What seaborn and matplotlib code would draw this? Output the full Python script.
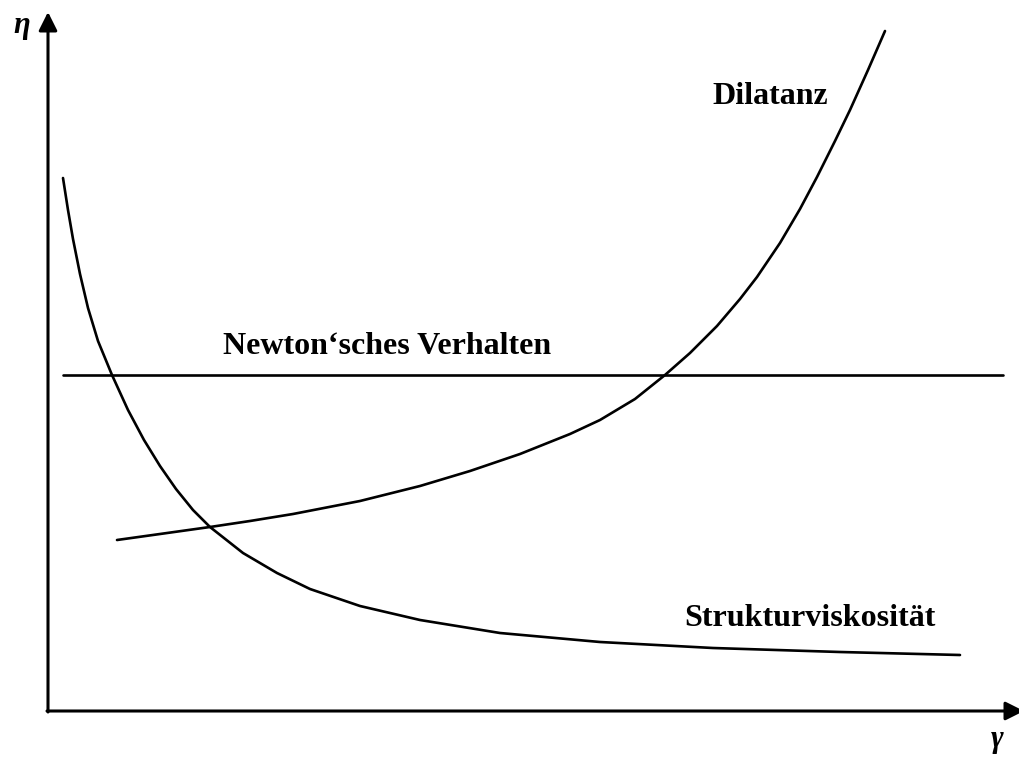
import pandas as pd
import matplotlib.pyplot as plt
import seaborn as sns

# values (shear rate vs. viscosity, arbitrary units)
struktur_x = [15, 20, 25, 32, 40, 50, 64, 80, 96, 112, 128, 145, 162, 195,
              229, 262, 312, 372, 452, 552, 665, 792, 912]
struktur_y = [533, 501, 472, 437, 403, 370, 336, 301, 271, 245, 222, 201, 184,
              158, 138, 122, 105, 91, 78, 69, 63, 59, 56]

dilatanz_x = [69, 112, 162, 202, 245, 312, 372, 422, 472, 522, 552, 587, 617,
              642, 669, 692, 709, 732, 752, 769, 787, 802, 820, 837]
dilatanz_y = [171, 177, 184, 190, 197, 210, 225, 240, 257, 277, 291, 312, 336,
              358, 385, 412, 434, 468, 502, 534, 570, 601, 641, 680]

newton_x = [15, 955]
newton_y = [336, 336]

labels = ["Strukturviskosität", "Dilatanz", "Newton\u2018sches Verhalten"]


def build_frame():
    parts = [
        pd.DataFrame({"x": struktur_x, "y": struktur_y, "curve": labels[0]}),
        pd.DataFrame({"x": dilatanz_x, "y": dilatanz_y, "curve": labels[1]}),
        pd.DataFrame({"x": newton_x, "y": newton_y, "curve": labels[2]}),
    ]
    return pd.concat(parts, ignore_index=True)


def main():
    sns.set_style("white")
    plt.rcParams["font.family"] = ["Liberation Serif", "DejaVu Serif"]

    df = build_frame()

    fig = plt.figure(figsize=(10.2, 7.58), dpi=100)
    ax = fig.add_axes([0, 0, 1, 1])

    for name in labels:
        sub = df[df["curve"] == name]
        sns.lineplot(data=sub, x="x", y="y", sort=False, color="black",
                     lw=1.9, solid_joinstyle="round", ax=ax, legend=False)

    ax.set_xlim(-48, 972)
    ax.set_ylim(-47, 711)
    ax.axis("off")

    arrow = dict(arrowstyle="-|>", lw=2.2, color="black", mutation_scale=28,
                 shrinkA=0, shrinkB=0)
    ax.annotate("", xy=(0, 699), xytext=(0, -1), arrowprops=arrow,
                annotation_clip=False)
    ax.annotate("", xy=(976, 0), xytext=(-1, 0), arrowprops=arrow,
                annotation_clip=False)

    ax.text(-26, 686, "\u03b7", fontsize=22, fontweight="bold", style="italic",
            color="black", ha="center", va="center")
    ax.text(949, -29, "\u03b3", fontsize=22, fontweight="bold", style="italic",
            color="black", ha="center", va="center")

    ax.text(722, 614, labels[1], fontsize=23, fontweight="bold",
            color="black", ha="center", va="center")
    ax.text(339, 364, labels[2], fontsize=23, fontweight="bold",
            color="black", ha="center", va="center")
    ax.text(762, 92, labels[0], fontsize=23, fontweight="bold",
            color="black", ha="center", va="center")

    fig.savefig("out.png", dpi=100)
    plt.close(fig)


if __name__ == "__main__":
    main()
